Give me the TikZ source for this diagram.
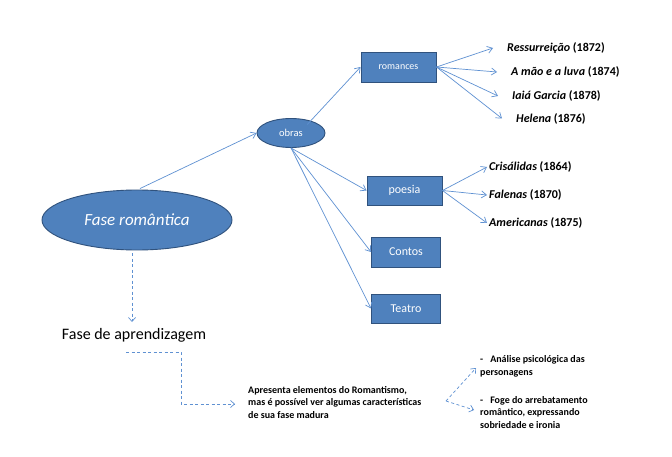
\documentclass[tikz,border=0pt]{standalone}
\usepackage{fontspec}
\setmainfont{Carlito}
\usetikzlibrary{arrows.meta,shapes.geometric}
\definecolor{boxfill}{RGB}{79,129,189}
\definecolor{boxline}{RGB}{48,82,125}
\definecolor{arrowc}{RGB}{95,145,210}
\tikzset{
  ovalbox/.style={ellipse,draw=boxline,fill=boxfill,line width=0.9pt,text=white,inner sep=0pt},
  rectbox/.style={rectangle,draw=boxline,fill=boxfill,line width=0.9pt,text=white,inner sep=0pt},
  link/.style={draw=arrowc,line width=0.7pt,-{Straight Barb[length=5pt,width=7pt]}},
  dlink/.style={draw=arrowc,line width=0.7pt,dashed,dash pattern=on 3pt off 2.5pt,-{Straight Barb[length=4pt,width=7pt]}},
  item/.style={anchor=west,inner sep=0pt,font=\fontsize{12}{14}\selectfont\bfseries},
  note/.style={anchor=west,inner sep=0pt,align=left,font=\fontsize{10}{12.5}\selectfont\bfseries}
}
\begin{document}
\begin{tikzpicture}[x=1pt,y=-1pt]
\useasboundingbox[fill=white] (0,0) rectangle (672,457);
% main nodes
\node[ovalbox,minimum width=190pt,minimum height=60pt,font=\fontsize{17}{20}\selectfont\itshape] (fase) at (137,220) {Fase romântica};
\node[ovalbox,minimum width=68pt,minimum height=29pt,font=\fontsize{10.5}{12}\selectfont] (obras) at (291,133) {obras};
\node[rectbox,minimum width=75pt,minimum height=30pt,font=\fontsize{10}{12}\selectfont] (rom) at (398.5,67) {romances};
\node[rectbox,minimum width=75pt,minimum height=29pt,font=\fontsize{12}{14}\selectfont] (poe) at (404.5,190.5) {poesia};
\node[rectbox,minimum width=69pt,minimum height=30pt,font=\fontsize{12}{14}\selectfont] (con) at (406,252) {Contos};
\node[rectbox,minimum width=69pt,minimum height=29pt,font=\fontsize{12}{14}\selectfont] (tea) at (406,308.5) {Teatro};
% romances items
\node[item] (r1) at (507,48) {\textit{Ressurreição} (1872)};
\node[item] (r2) at (511,72) {\textit{A mão e a luva} (1874)};
\node[item] (r3) at (512,96) {\textit{Iaiá Garcia} (1878)};
\node[item] (r4) at (516,118.5) {\textit{Helena} (1876)};
% poesia items
\node[item] (p1) at (489,167) {\textit{Crisálidas} (1864)};
\node[item] (p2) at (489,195) {\textit{Falenas} (1870)};
\node[item] (p3) at (489,223) {\textit{Americanas} (1875)};
% lower part
\node[inner sep=0pt,font=\fontsize{16}{19}\selectfont] (apr) at (134,335) {Fase de aprendizagem};
\node[note] (txt) at (248,402.5) {Apresenta elementos do Romantismo,\\mas é possível ver algumas características\\de sua fase madura};
\node[note] (b1) at (480,366.5) {-\hspace{7pt}Análise psicológica das\\personagens};
\node[note] (b2) at (480,412.5) {-\hspace{7pt}Foge do arrebatamento\\romântico, expressando\\sobriedade e ironia};
\coordinate (c0) at (126,352);
\coordinate (c1) at (181,352);
\coordinate (c2) at (181,404);
\coordinate (c3) at (235,404);
\coordinate (s0) at (446,401);
\coordinate (e1) at (476,368);
\coordinate (e2) at (474,410);
\coordinate (a0) at (132,253);
\coordinate (a1) at (132,322);
% connectors
\draw[link] (fase.north) ++(3,-1) -- (obras.west);
\draw[link] (obras.north east) ++(-8,2) -- (rom.west);
\draw[link] (obras.south) -- (poe.west);
\draw[link] (obras.south) -- (con.west);
\draw[link] (obras.south) -- (tea.west);
\foreach \t in {r1,r2,r3,r4}{\draw[link] (rom.east) -- ([xshift=-14pt]\t.west);}
\foreach \t in {p1,p2,p3}{\draw[link] (poe.east) -- ([xshift=-2pt]\t.west);}
\draw[dlink] (a0) -- (a1);
\draw[dlink] (c0) -- (c1) -- (c2) -- (c3);
\draw[dlink] (s0) -- (e1);
\draw[dlink] (s0) -- (e2);
\end{tikzpicture}
\end{document}
